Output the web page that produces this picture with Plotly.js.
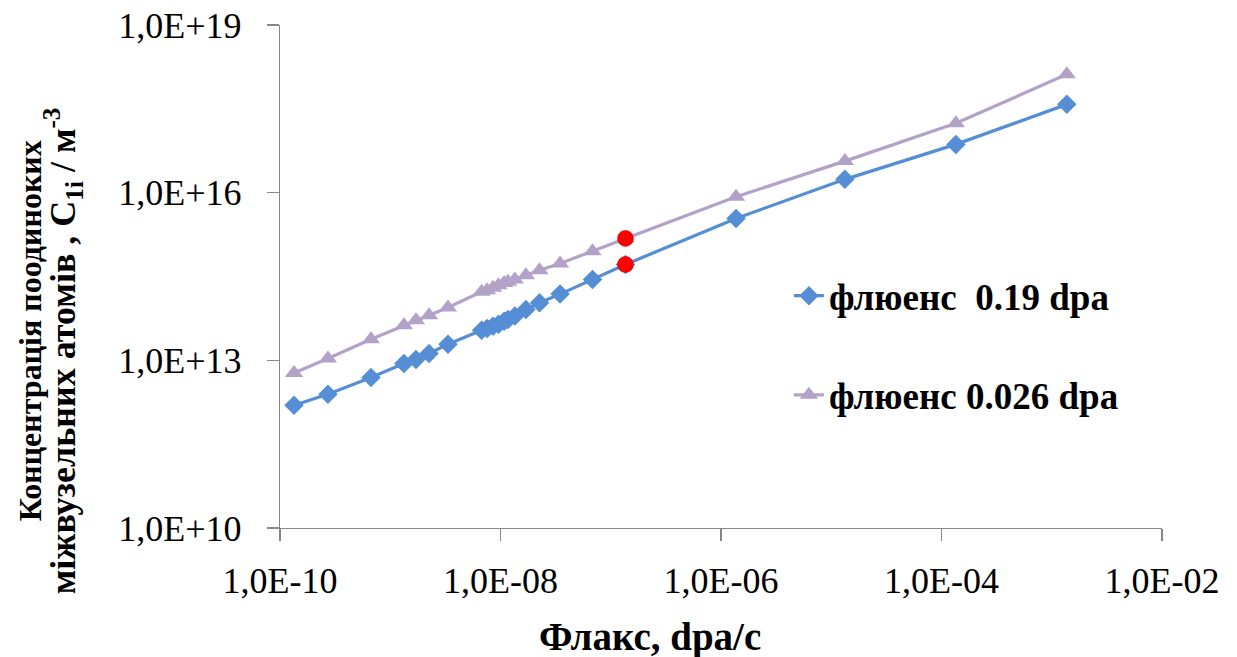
<!DOCTYPE html>
<html>
<head>
<meta charset="utf-8">
<script src="https://cdn.plot.ly/plotly-3.0.1.min.js"></script>
<style>html,body{margin:0;padding:0;background:#fff;}#chart{width:1237px;height:657px;}</style>
</head>
<body>
<div id="chart"></div>
<script>
// Flux values, dpa/s (shared by both series)
var flux = [1.34e-10, 2.72e-10, 6.69e-10, 1.33e-9, 1.71e-9, 2.25e-9, 3.34e-9,
            6.73e-9, 7.55e-9, 8.55e-9, 9.59e-9, 1.08e-8, 1.17e-8, 1.35e-8, 1.70e-8,
            2.26e-8, 3.47e-8, 6.83e-8, 1.36e-7, 1.37e-6, 1.33e-5, 1.35e-4, 1.37e-3];
// Concentration, fluence 0.19 dpa
var conc019 = [1.57e12, 2.47e12, 4.92e12, 8.77e12, 1.03e13, 1.32e13, 1.94e13,
               3.46e13, 3.71e13, 4.08e13, 4.43e13, 5.01e13, 5.38e13, 6.24e13, 8.12e13,
               1.07e14, 1.53e14, 2.80e14, 5.19e14, 3.46e15, 1.73e16, 7.31e16, 3.80e17];
// Concentration, fluence 0.026 dpa
var conc0026 = [5.95e12, 1.08e13, 2.39e13, 4.25e13, 5.23e13, 6.42e13, 8.83e13,
                1.68e14, 1.80e14, 1.98e14, 2.21e14, 2.43e14, 2.55e14, 2.80e14, 3.34e14,
                4.10e14, 5.41e14, 8.98e14, 1.52e15, 8.43e15, 3.67e16, 1.74e17, 1.31e18];
// Highlighted points
var redX = [1.36e-7, 1.36e-7];
var redY = [5.19e14, 1.52e15];

var seriesNames = ['флюенс  0.19 dpa', 'флюенс 0.026 dpa'];
var xTickVals = [1e-10, 1e-8, 1e-6, 1e-4, 1e-2];
var xTickText = ['1,0E-10', '1,0E-08', '1,0E-06', '1,0E-04', '1,0E-02'];
var yTickVals = [1e10, 1e13, 1e16, 1e19];
var yTickText = ['1,0E+10', '1,0E+13', '1,0E+16', '1,0E+19'];
var xTitle = 'Флакс, dpa/c';
var yTitle1 = 'Концентрація поодиноких';
var yTitle2 = 'міжвузельних атомів\u00A0, C<sub>1i</sub>\u00A0/ м<sup>-3</sup>';

var FONT = '"Liberation Serif", "Times New Roman", serif';
var blue = '#558ED5';
var purple = '#B3A2C7';

var traces = [
  {x: flux, y: conc019, name: seriesNames[0], type: 'scatter', mode: 'lines+markers',
   legendgroup: 'a',
   line: {color: blue, width: 3.2}, marker: {symbol: 'diamond', size: 15, color: blue}},
  {x: flux, y: conc0026, name: seriesNames[1], type: 'scatter', mode: 'lines+markers',
   legendgroup: 'b',
   line: {color: purple, width: 3.2}, marker: {symbol: 'triangle-up', size: 16, color: purple}},
  {x: redX, y: redY, type: 'scatter', mode: 'markers', showlegend: false,
   marker: {symbol: 'circle', size: 16, color: '#FF0000', line: {color: '#C00000', width: 0.5}}}
];

var axisCommon = {
  type: 'log', showgrid: false, zeroline: false, showline: true,
  linecolor: '#868686', linewidth: 1.3, ticks: 'outside', tickcolor: '#868686',
  ticklen: 12, tickwidth: 1.3, tickfont: {family: FONT, size: 36, color: '#000'}
};

var layout = {
  width: 1237, height: 657,
  margin: {l: 280, r: 75, t: 25, b: 129},
  paper_bgcolor: '#fff', plot_bgcolor: '#fff',
  font: {family: FONT, color: '#000'},
  xaxis: Object.assign({}, axisCommon, {
    range: [-10, -2], tickmode: 'array', tickvals: xTickVals, ticktext: xTickText,
    ticklabelstandoff: 8
  }),
  yaxis: Object.assign({}, axisCommon, {
    range: [10, 19], tickmode: 'array', tickvals: yTickVals, ticktext: yTickText,
    ticklabelstandoff: 18
  }),
  showlegend: true,
  legend: {
    x: 0.577, y: 0.5226, xanchor: 'left', yanchor: 'top',
    traceorder: 'grouped', tracegroupgap: 48,
    bgcolor: 'rgba(0,0,0,0)', borderwidth: 0,
    font: {family: FONT, size: 37, color: '#000', weight: 'bold'}
  },
  annotations: [
    {text: xTitle, xref: 'paper', yref: 'paper', x: 0.4195, y: -0.2174,
     xanchor: 'center', yanchor: 'middle', showarrow: false,
     font: {family: FONT, size: 39, color: '#000', weight: 'bold'}},
    {text: yTitle1, xref: 'paper', yref: 'paper', x: -0.2834, y: 0.391,
     xanchor: 'center', yanchor: 'middle', showarrow: false, textangle: -90,
     font: {family: FONT, size: 32, color: '#000', weight: 'bold'}},
    {text: yTitle2, xref: 'paper', yref: 'paper', x: -0.246, y: 0.3515,
     xanchor: 'center', yanchor: 'middle', showarrow: false, textangle: -90,
     font: {family: FONT, size: 36, color: '#000', weight: 'bold'}}
  ]
};

Plotly.newPlot('chart', traces, layout, {displayModeBar: false, staticPlot: true});
</script>
</body>
</html>
